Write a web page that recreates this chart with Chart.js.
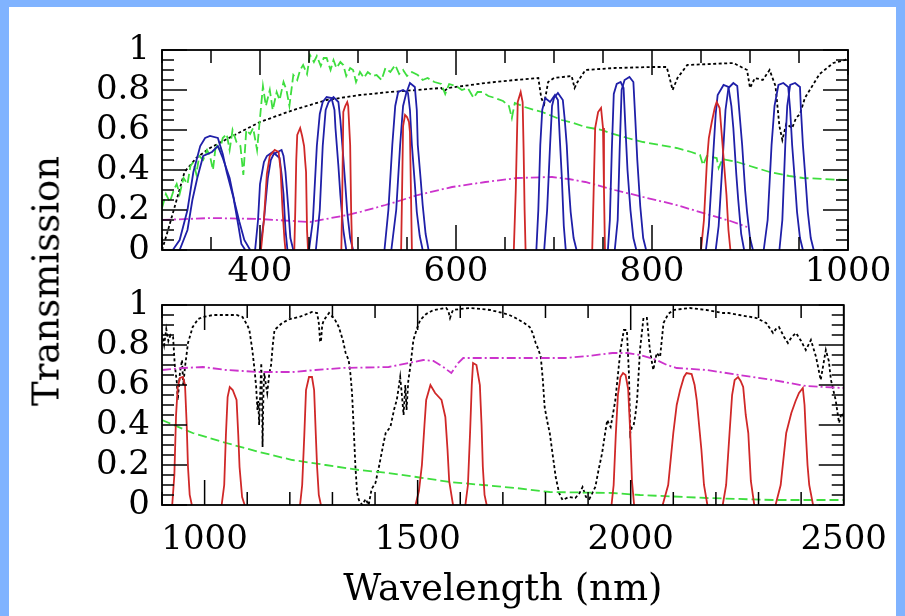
<!DOCTYPE html>
<html>
<head>
<meta charset="utf-8">
<script src="https://cdn.jsdelivr.net/npm/chart.js@4/dist/chart.umd.min.js"></script>
<style>
  body { margin: 0; background: #80b3ff; }
  #frame { position: absolute; left: 9px; top: 7px; width: 887px; height: 609px; background: #fff; }
  canvas { position: absolute; left: 0; top: 0; }
  #ytitle {
    position: absolute; left: 46px; top: 281px;
    transform: translate(-50%, -50%) rotate(-90deg);
    font: 37px "DejaVu Serif"; white-space: nowrap; color: #000;
  }
</style>
</head>
<body>
<div id="frame"></div>
<canvas id="topChart" width="905" height="616"></canvas>
<canvas id="botChart" width="905" height="616"></canvas>
<div id="ytitle">Transmission</div>
<script>
// ---- tick labels ----
const yTicks = [0, 0.2, 0.4, 0.6, 0.8, 1];
const xTicksTop = [400, 600, 800, 1000];
const xTicksBot = [1000, 1500, 2000, 2500];

// ---- top panel (300-1000 nm) : [wavelength, transmission] ----
const atmTop = [[300,0],[305,0.08],[312,0.2],[323,0.39],[335,0.46],[349,0.51],[376,0.58],[400,0.64],[434,0.70],[468,0.75],[502,0.775],[533,0.79],[560,0.80],[585,0.81],[588,0.795],[592,0.81],[630,0.835],[660,0.85],[684,0.86],[687,0.76],[690,0.73],[694,0.84],[700,0.86],[718,0.87],[721,0.81],[724,0.84],[732,0.90],[762,0.91],[800,0.915],[815,0.915],[818,0.86],[821,0.80],[826,0.86],[836,0.925],[860,0.93],[883,0.935],[897,0.9],[900,0.81],[905,0.86],[913,0.85],[920,0.90],[926,0.82],[930,0.62],[933,0.55],[937,0.63],[943,0.61],[947,0.66],[951,0.68],[956,0.76],[961,0.80],[971,0.88],[985,0.935],[997,0.95],[1000,0.96]];

const greenTop = [[300,0.21],[304,0.28],[308,0.24],[312,0.3],[315,0.33],[318,0.28],[322,0.36],[326,0.33],[329,0.42],[332,0.44],[335,0.38],[338,0.47],[342,0.45],[346,0.5],[349,0.47],[352,0.4],[355,0.53],[359,0.5],[362,0.56],[366,0.58],[369,0.5],[372,0.6],[376,0.54],[380,0.52],[383,0.375],[386,0.6],[390,0.58],[393,0.61],[397,0.5],[400,0.66],[403,0.82],[406,0.72],[410,0.8],[413,0.7],[417,0.79],[420,0.75],[424,0.84],[427,0.8],[430,0.72],[434,0.875],[438,0.85],[441,0.9],[444,0.925],[448,0.88],[451,0.975],[455,0.94],[458,0.97],[462,0.92],[465,0.96],[468,0.96],[472,0.9],[475,0.95],[478,0.91],[482,0.94],[485,0.925],[488,0.87],[492,0.91],[495,0.9],[498,0.84],[502,0.89],[506,0.86],[510,0.89],[515,0.87],[519,0.875],[524,0.85],[528,0.91],[533,0.89],[538,0.925],[542,0.88],[546,0.9],[550,0.87],[555,0.89],[561,0.875],[566,0.85],[571,0.86],[578,0.84],[585,0.83],[589,0.78],[593,0.83],[600,0.82],[606,0.8],[612,0.81],[618,0.76],[622,0.79],[627,0.79],[633,0.77],[640,0.76],[648,0.745],[654,0.72],[657,0.66],[660,0.735],[670,0.715],[680,0.7],[688,0.69],[698,0.67],[708,0.65],[720,0.635],[732,0.615],[749,0.6],[757,0.585],[775,0.56],[791,0.54],[808,0.525],[825,0.51],[840,0.49],[849,0.475],[852,0.425],[856,0.47],[866,0.46],[868,0.41],[872,0.455],[887,0.44],[900,0.42],[920,0.39],[940,0.37],[954,0.36],[975,0.355],[995,0.35],[1000,0.35]];

const magentaTop = [[300,0.15],[350,0.16],[400,0.155],[451,0.14],[489,0.175],[502,0.19],[528,0.225],[545,0.25],[561,0.275],[596,0.315],[630,0.34],[663,0.36],[698,0.365],[715,0.355],[732,0.34],[762,0.3],[791,0.265],[825,0.225],[859,0.175],[880,0.145],[897,0.115]];

const blueTop = [
  [[311,0],[318,0.05],[326,0.2],[332,0.39],[339,0.52],[344,0.56],[349,0.57],[357,0.56],[362,0.48],[366,0.39],[373,0.26],[378,0.12],[381,0.03],[385,0]],
  [[318,0],[326,0.1],[331,0.25],[336,0.36],[342,0.47],[351,0.49],[357,0.52],[362,0.46],[369,0.36],[374,0.24],[379,0.14],[384,0.05],[390,0]],
  [[395,0],[398,0.15],[400,0.33],[404,0.44],[407,0.47],[413,0.49],[420,0.46],[422,0.38],[424,0.28],[426,0.1],[428,0]],
  [[400,0],[404,0.15],[408,0.36],[411,0.45],[414,0.48],[422,0.5],[424,0.47],[426,0.39],[429,0.2],[431,0.06],[434,0]],
  [[450,0],[454,0.15],[458,0.52],[461,0.68],[464,0.74],[468,0.765],[473,0.76],[476,0.7],[477,0.61],[480,0.42],[482,0.275],[485,0.1],[488,0]],
  [[457,0],[461,0.2],[464,0.52],[467,0.7],[470,0.74],[475,0.765],[480,0.74],[482,0.65],[484,0.525],[487,0.33],[489,0.19],[492,0.06],[495,0]],
  [[527,0],[531,0.2],[535,0.525],[538,0.72],[541,0.79],[546,0.8],[551,0.785],[553,0.7],[555,0.525],[558,0.33],[560,0.19],[563,0.07],[566,0]],
  [[534,0],[539,0.2],[543,0.525],[546,0.72],[549,0.78],[553,0.835],[558,0.815],[560,0.7],[561,0.525],[564,0.35],[566,0.225],[569,0.08],[572,0]],
  [[682,0],[684,0.2],[686,0.525],[688,0.7],[691,0.76],[696,0.74],[701,0.775],[704,0.75],[706,0.55],[708,0.36],[710,0.12],[712,0]],
  [[690,0],[693,0.2],[696,0.525],[698,0.72],[700,0.76],[704,0.785],[709,0.75],[711,0.65],[713,0.525],[715,0.33],[717,0.19],[720,0.06],[723,0]],
  [[755,0],[757,0.15],[759,0.5],[761,0.78],[764,0.83],[768,0.84],[771,0.81],[773,0.6],[775,0.4],[778,0.2],[781,0.06],[784,0]],
  [[762,0],[765,0.15],[767,0.5],[769,0.8],[772,0.85],[777,0.865],[781,0.84],[783,0.65],[785,0.45],[788,0.22],[791,0.06],[794,0]],
  [[855,0],[858,0.12],[862,0.44],[865,0.68],[867,0.775],[873,0.825],[878,0.815],[881,0.72],[883,0.61],[886,0.38],[888,0.25],[891,0.08],[894,0]],
  [[865,0],[868,0.12],[872,0.44],[875,0.7],[878,0.81],[883,0.835],[887,0.82],[889,0.7],[892,0.525],[895,0.3],[897,0.19],[900,0.06],[903,0]],
  [[914,0],[918,0.15],[922,0.525],[925,0.72],[929,0.825],[934,0.835],[939,0.815],[941,0.7],[943,0.525],[946,0.33],[948,0.19],[951,0.06],[954,0]],
  [[930,0],[933,0.15],[936,0.525],[938,0.72],[941,0.825],[946,0.835],[951,0.815],[952,0.7],[954,0.525],[957,0.33],[959,0.19],[962,0.06],[965,0]]
];

const redTop = [
  [[401,0],[404,0.15],[407,0.38],[410,0.47],[415,0.5],[419,0.49],[421,0.4],[423,0.2],[425,0.05],[426,0]],
  [[435,0],[436,0.2],[437,0.45],[438,0.575],[441,0.61],[443,0.57],[445,0.52],[446,0.45],[447,0.39],[448,0.1],[449,0]],
  [[483,0],[484,0.3],[485,0.69],[487,0.72],[489,0.74],[490,0.72],[492,0.525],[493,0.2],[494,0]],
  [[544,0],[545,0.3],[546,0.62],[548,0.675],[550,0.665],[552,0.64],[553,0.59],[554,0.3],[555,0]],
  [[659,0],[661,0.3],[663,0.74],[666,0.79],[668,0.74],[669,0.5],[670,0.2],[671,0]],
  [[739,0],[740,0.2],[742,0.61],[745,0.69],[748,0.71],[750,0.61],[751,0.3],[752,0]],
  [[850,0],[853,0.15],[856,0.44],[858,0.56],[861,0.64],[864,0.71],[866,0.74],[869,0.71],[872,0.525],[874,0.4],[876,0.275],[878,0.1],[880,0]]
];

// ---- bottom panel (900-2500 nm) ----
const atmBot = [[900,0.86],[905,0.8],[910,0.88],[915,0.82],[920,0.85],[926,0.84],[930,0.7],[935,0.61],[937,0.525],[942,0.66],[947,0.725],[950,0.6],[954,0.69],[961,0.81],[972,0.89],[985,0.93],[996,0.94],[1020,0.95],[1051,0.95],[1075,0.95],[1089,0.94],[1100,0.9],[1105,0.875],[1112,0.775],[1117,0.68],[1121,0.59],[1124,0.475],[1126,0.52],[1128,0.4],[1133,0.71],[1135,0.5],[1136,0.29],[1138,0.55],[1140,0.66],[1144,0.6],[1147,0.56],[1152,0.66],[1156,0.7],[1160,0.8],[1164,0.875],[1182,0.91],[1200,0.93],[1222,0.94],[1252,0.965],[1264,0.96],[1268,0.91],[1271,0.82],[1273,0.815],[1276,0.9],[1280,0.925],[1292,0.96],[1305,0.93],[1315,0.89],[1325,0.82],[1331,0.76],[1338,0.725],[1342,0.66],[1346,0.56],[1350,0.38],[1354,0.19],[1358,0.06],[1362,0.025],[1370,0],[1378,0.03],[1385,0],[1392,0.08],[1401,0.11],[1410,0.2],[1420,0.31],[1425,0.36],[1436,0.39],[1445,0.48],[1451,0.525],[1455,0.58],[1459,0.64],[1463,0.55],[1467,0.45],[1471,0.6],[1474,0.475],[1478,0.62],[1482,0.68],[1486,0.75],[1490,0.825],[1498,0.88],[1506,0.925],[1520,0.955],[1537,0.975],[1567,0.985],[1572,0.97],[1576,0.935],[1580,0.96],[1583,0.975],[1600,0.98],[1623,0.985],[1650,0.98],[1670,0.975],[1700,0.96],[1715,0.95],[1730,0.935],[1750,0.91],[1763,0.89],[1770,0.86],[1777,0.81],[1783,0.78],[1789,0.74],[1794,0.62],[1798,0.49],[1804,0.42],[1810,0.36],[1817,0.25],[1824,0.14],[1832,0.06],[1840,0.025],[1855,0.04],[1870,0.035],[1880,0.06],[1887,0.09],[1895,0.04],[1903,0.03],[1910,0.06],[1917,0.09],[1925,0.18],[1933,0.26],[1940,0.36],[1945,0.425],[1950,0.4],[1953,0.39],[1958,0.45],[1964,0.525],[1970,0.65],[1976,0.775],[1984,0.875],[1991,0.875],[1996,0.65],[1999,0.36],[2003,0.39],[2007,0.4],[2011,0.45],[2015,0.525],[2022,0.78],[2030,0.935],[2038,0.935],[2045,0.775],[2053,0.675],[2061,0.76],[2069,0.74],[2077,0.91],[2088,0.955],[2100,0.975],[2139,0.985],[2178,0.975],[2217,0.96],[2230,0.96],[2255,0.95],[2295,0.935],[2318,0.91],[2334,0.86],[2341,0.88],[2348,0.89],[2360,0.84],[2369,0.81],[2378,0.84],[2388,0.86],[2400,0.82],[2411,0.775],[2423,0.825],[2435,0.74],[2446,0.625],[2452,0.7],[2458,0.775],[2465,0.72],[2470,0.625],[2481,0.525],[2489,0.41],[2495,0.46],[2500,0.44]];

const greenBot = [[900,0.425],[972,0.36],[1051,0.31],[1128,0.265],[1206,0.225],[1284,0.2],[1362,0.175],[1432,0.16],[1497,0.14],[1576,0.115],[1653,0.1],[1730,0.085],[1810,0.065],[1957,0.06],[2022,0.05],[2178,0.035],[2334,0.025],[2500,0.025]];

const magentaBot = [[900,0.675],[950,0.685],[996,0.69],[1051,0.675],[1090,0.67],[1128,0.665],[1206,0.665],[1260,0.675],[1322,0.685],[1432,0.69],[1480,0.71],[1513,0.725],[1537,0.72],[1560,0.69],[1579,0.66],[1595,0.71],[1607,0.735],[1730,0.735],[1847,0.735],[1900,0.745],[1957,0.76],[1991,0.76],[2022,0.75],[2061,0.725],[2085,0.7],[2108,0.685],[2178,0.675],[2255,0.65],[2334,0.625],[2411,0.595],[2500,0.585]];

const redBot = [
  [[924,0],[929,0.15],[933,0.45],[937,0.59],[942,0.635],[949,0.64],[954,0.6],[958,0.4],[961,0.19],[965,0.05],[970,0]],
  [[1040,0],[1046,0.1],[1050,0.35],[1054,0.54],[1059,0.59],[1066,0.575],[1075,0.525],[1079,0.35],[1082,0.19],[1088,0.04],[1094,0]],
  [[1224,0],[1229,0.1],[1234,0.35],[1238,0.575],[1245,0.64],[1252,0.64],[1257,0.575],[1261,0.35],[1264,0.19],[1268,0.05],[1273,0]],
  [[1495,0],[1503,0.07],[1510,0.2],[1516,0.4],[1520,0.525],[1530,0.6],[1541,0.56],[1556,0.525],[1565,0.44],[1570,0.28],[1574,0.12],[1583,0]],
  [[1612,0],[1618,0.1],[1623,0.36],[1627,0.6],[1630,0.71],[1638,0.7],[1646,0.6],[1650,0.4],[1653,0.19],[1657,0.05],[1662,0]],
  [[1955,0],[1960,0.1],[1965,0.35],[1970,0.55],[1976,0.64],[1982,0.66],[1988,0.65],[1994,0.58],[1999,0.36],[2003,0.12],[2008,0]],
  [[2075,0],[2088,0.1],[2100,0.36],[2108,0.5],[2116,0.575],[2125,0.64],[2131,0.66],[2143,0.655],[2150,0.6],[2155,0.525],[2166,0.275],[2172,0.1],[2180,0]],
  [[2216,0],[2224,0.1],[2232,0.36],[2238,0.55],[2244,0.625],[2252,0.64],[2258,0.62],[2264,0.59],[2270,0.45],[2276,0.36],[2282,0.12],[2290,0]],
  [[2340,0],[2352,0.1],[2365,0.36],[2377,0.46],[2387,0.52],[2395,0.56],[2404,0.585],[2408,0.5],[2411,0.36],[2415,0.2],[2419,0.1],[2428,0]]
];

const BLUE = '#1f1fa8', RED = '#d02828', GREEN = '#3ede3e', MAGENTA = '#cc33cc';
const FONT = 'DejaVu Serif';
const TICK_OPTS = {
  topChart: {xMinor: 50, xMajor: xTicksTop},
  botChart: {xMinor: 100, xMajor: xTicksBot}
};

function series(pts, color, dash, width) {
  return {
    data: pts.map(p => ({x: p[0], y: p[1]})),
    borderColor: color, borderWidth: width || 1.8, borderDash: dash || [],
    pointRadius: 0, tension: 0, fill: false
  };
}

// frame with inward ticks on all four sides (PGPLOT style)
const boxTicks = {
  id: 'boxTicks',
  afterDraw(chart) {
    const o = TICK_OPTS[chart.canvas.id];
    const {ctx, chartArea: a} = chart;
    const x = chart.scales.x, y = chart.scales.y;
    const w = 1.5;
    ctx.save();
    ctx.fillStyle = '#000';
    const nx = Math.round((x.max - x.min) / o.xMinor);
    for (let k = 0; k <= nx; k++) {
      const v = x.min + k * o.xMinor;
      const px = x.getPixelForValue(v);
      const len = o.xMajor.indexOf(v) >= 0 ? 25 : 13;
      ctx.fillRect(px - w / 2, a.bottom - len, w, len);
      ctx.fillRect(px - w / 2, a.top, w, len);
    }
    for (let i = 0; i <= 20; i++) {
      const py = y.getPixelForValue(i * 0.05);
      const len = i % 4 === 0 ? 25 : 12;
      ctx.fillRect(a.left, py - w / 2, len, w);
      ctx.fillRect(a.right - len, py - w / 2, len, w);
    }
    ctx.lineWidth = 1.8;
    ctx.strokeStyle = '#000';
    ctx.setLineDash([]);
    ctx.strokeRect(a.left, a.top, a.right - a.left, a.bottom - a.top);
    ctx.restore();
  }
};

function makeChart(id, cfg) {
  const datasets = [];
  cfg.red.forEach(c => datasets.push(series(c, RED)));
  (cfg.blue || []).forEach(c => datasets.push(series(c, BLUE)));
  datasets.push(series(cfg.magenta, MAGENTA, [9, 3, 2, 3]));
  datasets.push(series(cfg.green, GREEN, [9, 4]));
  datasets.push(series(cfg.atm, '#000', [3, 2.5]));

  return new Chart(document.getElementById(id), {
    type: 'line',
    data: {datasets},
    plugins: [boxTicks],
    options: {
      responsive: false, animation: false,
      layout: {padding: cfg.padding},
      plugins: {legend: {display: false}, tooltip: {enabled: false}},
      scales: {
        x: {
          type: 'linear', min: cfg.min, max: cfg.max,
          grid: {display: false, drawTicks: false}, border: {display: false},
          afterBuildTicks: s => { s.ticks = cfg.xTicks.map(v => ({value: v})); },
          afterFit: s => { s.height = cfg.xHeight; },
          ticks: {color: '#000', maxRotation: 0, autoSkip: false, padding: cfg.xPad,
                  callback: v => String(v),
                  font: {family: FONT, size: 34, lineHeight: 1}},
          title: cfg.title ? {display: true, text: cfg.title, color: '#000',
                  padding: {top: 0, bottom: 7}, font: {family: FONT, size: 37, lineHeight: 1}} : {display: false}
        },
        y: {
          min: 0, max: 1,
          grid: {display: false, drawTicks: false}, border: {display: false},
          afterBuildTicks: s => { s.ticks = yTicks.map(v => ({value: v})); },
          afterFit: s => { s.width = 162; },
          ticks: {color: '#000', padding: 12, callback: v => String(v),
                  font: {family: FONT, size: 34, lineHeight: 1}}
        }
      }
    }
  });
}

makeChart('topChart', {
  min: 300, max: 1000, xTicks: xTicksTop, xHeight: 50, xPad: 5,
  padding: {left: 0, top: 50, right: 57, bottom: 316},
  atm: atmTop, green: greenTop, magenta: magentaTop, blue: blueTop, red: redTop
});

makeChart('botChart', {
  min: 900, max: 2500, xTicks: xTicksBot, xHeight: 111, xPad: 18,
  padding: {left: 0, top: 305, right: 57, bottom: 0},
  title: 'Wavelength (nm)',
  atm: atmBot, green: greenBot, magenta: magentaBot, red: redBot
});
</script>
</body>
</html>
